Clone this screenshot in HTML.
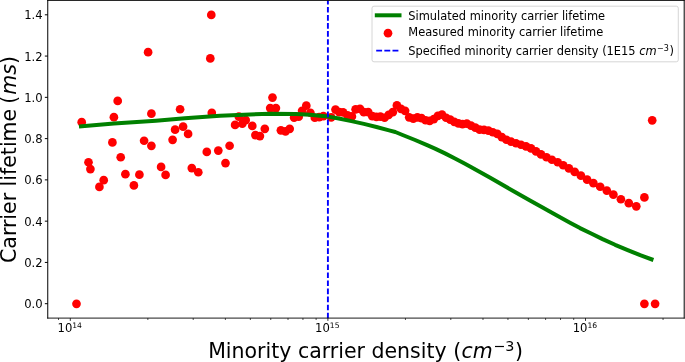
<!DOCTYPE html>
<html><head><meta charset="utf-8"><title>Carrier lifetime</title>
<style>html,body{margin:0;padding:0;background:#fff}svg{display:block;will-change:transform}</style></head>
<body>
<svg width="685" height="362" viewBox="0 0 685 362">
<rect width="685" height="362" fill="#fff"/>
<g fill="#ff0000">
<circle cx="76.5" cy="303.85" r="4.35"/>
<circle cx="81.7" cy="122.15" r="4.35"/>
<circle cx="88.5" cy="162.25" r="4.35"/>
<circle cx="90.4" cy="169.05" r="4.35"/>
<circle cx="99.4" cy="186.95" r="4.35"/>
<circle cx="103.7" cy="180.15" r="4.35"/>
<circle cx="112.4" cy="142.45" r="4.35"/>
<circle cx="113.9" cy="117.15" r="4.35"/>
<circle cx="117.7" cy="100.95" r="4.35"/>
<circle cx="120.7" cy="157.25" r="4.35"/>
<circle cx="125.4" cy="174.15" r="4.35"/>
<circle cx="133.9" cy="185.45" r="4.35"/>
<circle cx="139.4" cy="174.65" r="4.35"/>
<circle cx="144.1" cy="140.75" r="4.35"/>
<circle cx="148.1" cy="52.15" r="4.35"/>
<circle cx="151.4" cy="113.65" r="4.35"/>
<circle cx="151.4" cy="145.85" r="4.35"/>
<circle cx="161.1" cy="166.95" r="4.35"/>
<circle cx="165.6" cy="174.95" r="4.35"/>
<circle cx="172.6" cy="139.85" r="4.35"/>
<circle cx="175.1" cy="129.65" r="4.35"/>
<circle cx="180.1" cy="109.25" r="4.35"/>
<circle cx="183.1" cy="126.65" r="4.35"/>
<circle cx="188.1" cy="133.95" r="4.35"/>
<circle cx="191.8" cy="168.05" r="4.35"/>
<circle cx="198.3" cy="172.25" r="4.35"/>
<circle cx="206.8" cy="151.95" r="4.35"/>
<circle cx="210.3" cy="58.45" r="4.35"/>
<circle cx="211.3" cy="14.95" r="4.35"/>
<circle cx="211.8" cy="112.95" r="4.35"/>
<circle cx="218.3" cy="150.55" r="4.35"/>
<circle cx="225.5" cy="163.05" r="4.35"/>
<circle cx="229.6" cy="145.75" r="4.35"/>
<circle cx="235.1" cy="124.95" r="4.35"/>
<circle cx="238.8" cy="116.55" r="4.35"/>
<circle cx="242.3" cy="123.75" r="4.35"/>
<circle cx="245.7" cy="120.05" r="4.35"/>
<circle cx="252.3" cy="125.95" r="4.35"/>
<circle cx="255.4" cy="135.05" r="4.35"/>
<circle cx="259.9" cy="136.05" r="4.35"/>
<circle cx="264.8" cy="128.85" r="4.35"/>
<circle cx="270.2" cy="108.05" r="4.35"/>
<circle cx="272.5" cy="97.55" r="4.35"/>
<circle cx="275.9" cy="108.05" r="4.35"/>
<circle cx="280.9" cy="130.35" r="4.35"/>
<circle cx="285.5" cy="131.35" r="4.35"/>
<circle cx="289.7" cy="128.85" r="4.35"/>
<circle cx="294.1" cy="117.55" r="4.35"/>
<circle cx="298.7" cy="116.75" r="4.35"/>
<circle cx="302.1" cy="110.75" r="4.35"/>
<circle cx="306.3" cy="105.65" r="4.35"/>
<circle cx="310.4" cy="112.75" r="4.35"/>
<circle cx="314.8" cy="117.75" r="4.35"/>
<circle cx="319.2" cy="117.15" r="4.35"/>
<circle cx="323.4" cy="116.15" r="4.35"/>
<circle cx="331.2" cy="117.35" r="4.35"/>
<circle cx="335.5" cy="109.55" r="4.35"/>
<circle cx="339.3" cy="112.15" r="4.35"/>
<circle cx="343.1" cy="112.45" r="4.35"/>
<circle cx="347.5" cy="115.25" r="4.35"/>
<circle cx="351.9" cy="116.45" r="4.35"/>
<circle cx="355.6" cy="109.35" r="4.35"/>
<circle cx="360.0" cy="108.95" r="4.35"/>
<circle cx="363.8" cy="112.15" r="4.35"/>
<circle cx="368.2" cy="112.15" r="4.35"/>
<circle cx="372.3" cy="116.15" r="4.35"/>
<circle cx="376.4" cy="116.85" r="4.35"/>
<circle cx="380.4" cy="116.65" r="4.35"/>
<circle cx="384.6" cy="117.75" r="4.35"/>
<circle cx="388.7" cy="114.85" r="4.35"/>
<circle cx="392.8" cy="112.15" r="4.35"/>
<circle cx="396.9" cy="105.45" r="4.35"/>
<circle cx="401.0" cy="108.95" r="4.35"/>
<circle cx="405.1" cy="110.85" r="4.35"/>
<circle cx="409.2" cy="117.35" r="4.35"/>
<circle cx="413.3" cy="118.65" r="4.35"/>
<circle cx="417.4" cy="117.35" r="4.35"/>
<circle cx="421.5" cy="118.15" r="4.35"/>
<circle cx="425.6" cy="120.25" r="4.35"/>
<circle cx="429.7" cy="120.85" r="4.35"/>
<circle cx="433.8" cy="119.05" r="4.35"/>
<circle cx="437.9" cy="115.85" r="4.35"/>
<circle cx="442.0" cy="114.65" r="4.35"/>
<circle cx="446.1" cy="117.75" r="4.35"/>
<circle cx="450.2" cy="119.65" r="4.35"/>
<circle cx="454.3" cy="121.85" r="4.35"/>
<circle cx="458.4" cy="123.45" r="4.35"/>
<circle cx="462.5" cy="124.05" r="4.35"/>
<circle cx="466.8" cy="123.55" r="4.35"/>
<circle cx="471.0" cy="125.65" r="4.35"/>
<circle cx="475.3" cy="127.65" r="4.35"/>
<circle cx="479.6" cy="129.65" r="4.35"/>
<circle cx="484.0" cy="129.95" r="4.35"/>
<circle cx="488.4" cy="130.55" r="4.35"/>
<circle cx="492.8" cy="132.25" r="4.35"/>
<circle cx="497.3" cy="133.95" r="4.35"/>
<circle cx="501.8" cy="137.05" r="4.35"/>
<circle cx="506.4" cy="139.75" r="4.35"/>
<circle cx="511.0" cy="141.55" r="4.35"/>
<circle cx="516" cy="143.25" r="4.35"/>
<circle cx="521" cy="144.75" r="4.35"/>
<circle cx="526" cy="146.45" r="4.35"/>
<circle cx="531" cy="148.45" r="4.35"/>
<circle cx="536" cy="151.45" r="4.35"/>
<circle cx="541" cy="154.45" r="4.35"/>
<circle cx="546.5" cy="157.25" r="4.35"/>
<circle cx="551.9" cy="159.75" r="4.35"/>
<circle cx="557.7" cy="162.25" r="4.35"/>
<circle cx="563.2" cy="165.25" r="4.35"/>
<circle cx="568.9" cy="168.45" r="4.35"/>
<circle cx="574.7" cy="171.95" r="4.35"/>
<circle cx="580.9" cy="175.65" r="4.35"/>
<circle cx="587.1" cy="179.65" r="4.35"/>
<circle cx="593.4" cy="183.15" r="4.35"/>
<circle cx="600.2" cy="186.75" r="4.35"/>
<circle cx="606.8" cy="190.55" r="4.35"/>
<circle cx="613.4" cy="194.65" r="4.35"/>
<circle cx="620.9" cy="199.25" r="4.35"/>
<circle cx="628.8" cy="203.15" r="4.35"/>
<circle cx="636.3" cy="206.35" r="4.35"/>
<circle cx="644.4" cy="197.45" r="4.35"/>
<circle cx="644.4" cy="303.85" r="4.35"/>
<circle cx="652.2" cy="120.35" r="4.35"/>
<circle cx="655.1" cy="303.85" r="4.35"/>
</g>
<path d="M79.0 126.6 L113.9 123.6 L156 120.7 L184.8 118.3 L220 115.8 L250 114.4 L270 113.8 L296 114.1 L310 114.8 L320 115.7 L328.2 116.6 L338.8 118.5 L351.4 121.1 L363.9 123.9 L376.5 127.0 L389.1 130.4 L395.3 132.0 L402.6 135.0 L415.1 140.0 L427.7 145.4 L435 148.6 L445 153.4 L455 158.5 L465 163.7 L470 166.4 L489.8 177.6 L511 189.7 L530 200.6 L542.6 207.6 L555.1 214.6 L570 222.7 L580 228.1 L591.7 233.7 L602.6 239.1 L615.1 244.8 L627.7 250.1 L640.2 255.2 L653.4 260.0" fill="none" stroke="#008000" stroke-width="4" stroke-linecap="butt" stroke-linejoin="round"/>
<path d="M327.9 318.3 L327.9 0.45" stroke="#0000ff" stroke-width="1.9" stroke-dasharray="5.625 2.42" fill="none"/>
<g stroke="#000" stroke-width="0.8">
<path d="M70.30 318.1 v2.8"/>
<path d="M327.90 318.1 v2.8"/>
<path d="M585.50 318.1 v2.8"/>
</g><g stroke="#000" stroke-width="0.7">
<path d="M58.51 318.1 v1.9"/>
<path d="M147.85 318.1 v1.9"/>
<path d="M193.21 318.1 v1.9"/>
<path d="M225.39 318.1 v1.9"/>
<path d="M250.35 318.1 v1.9"/>
<path d="M270.75 318.1 v1.9"/>
<path d="M288.00 318.1 v1.9"/>
<path d="M302.94 318.1 v1.9"/>
<path d="M316.11 318.1 v1.9"/>
<path d="M405.45 318.1 v1.9"/>
<path d="M450.81 318.1 v1.9"/>
<path d="M482.99 318.1 v1.9"/>
<path d="M507.95 318.1 v1.9"/>
<path d="M528.35 318.1 v1.9"/>
<path d="M545.60 318.1 v1.9"/>
<path d="M560.54 318.1 v1.9"/>
<path d="M573.71 318.1 v1.9"/>
<path d="M663.05 318.1 v1.9"/>
</g><g stroke="#000" stroke-width="1">
<path d="M47.75 303.70 h-2.9"/>
<path d="M47.75 262.43 h-2.9"/>
<path d="M47.75 221.16 h-2.9"/>
<path d="M47.75 179.88 h-2.9"/>
<path d="M47.75 138.61 h-2.9"/>
<path d="M47.75 97.34 h-2.9"/>
<path d="M47.75 56.07 h-2.9"/>
<path d="M47.75 14.80 h-2.9"/>
</g>
<path d="M47.75 0.0 V318.55 M684.2 0.0 V318.55" fill="none" stroke="#000" stroke-width="1"/>
<path d="M47.25 0.45 H684.7 M47.25 318.1 H684.7" fill="none" stroke="#000" stroke-width="0.9"/>
<g font-family="'DejaVu Sans','Liberation Sans',sans-serif" fill="#000">
<text x="42.7" y="308.30" font-size="11.6" text-anchor="end">0.0</text>
<text x="42.7" y="267.03" font-size="11.6" text-anchor="end">0.2</text>
<text x="42.7" y="225.76" font-size="11.6" text-anchor="end">0.4</text>
<text x="42.7" y="184.48" font-size="11.6" text-anchor="end">0.6</text>
<text x="42.7" y="143.21" font-size="11.6" text-anchor="end">0.8</text>
<text x="42.7" y="101.94" font-size="11.6" text-anchor="end">1.0</text>
<text x="42.7" y="60.67" font-size="11.6" text-anchor="end">1.2</text>
<text x="42.7" y="19.40" font-size="11.6" text-anchor="end">1.4</text>
<text x="57.50" y="332.2" font-size="11.6">10<tspan font-size="7.6" dy="-4.5">14</tspan></text>
<text x="315.10" y="332.2" font-size="11.6">10<tspan font-size="7.6" dy="-4.5">15</tspan></text>
<text x="572.70" y="332.2" font-size="11.6">10<tspan font-size="7.6" dy="-4.5">16</tspan></text>
<text x="208.2" y="357.7" font-size="20.5">Minority carrier density (</text>
<text x="461.5" y="357.7" font-size="20.5" font-style="italic">cm</text>
<text x="493.3" y="350.6" font-size="14.35">−3</text>
<text x="515.1" y="357.7" font-size="20.5">)</text>
<text transform="translate(16.3,263.0) rotate(-90)" font-size="20.5">Carrier lifetime <tspan dx="-1.3">(</tspan><tspan font-style="italic" dx="0.9">ms</tspan>)</text>
<rect x="372" y="6.2" width="306.3" height="55.6" rx="2" ry="2" fill="#fff" fill-opacity="0.8" stroke="#cccccc" stroke-width="0.8"/>
<path d="M374.8 15.3 H401.5" stroke="#008000" stroke-width="4"/>
<circle cx="388" cy="33.2" r="4.35" fill="#ff0000"/>
<path d="M376.2 50.7 H399" stroke="#0000ff" stroke-width="1.8" stroke-dasharray="5.9 2.25"/>
<text x="408.3" y="19.5" font-size="11.43">Simulated minority carrier lifetime</text>
<text x="408.3" y="36.2" font-size="11.43">Measured minority carrier lifetime</text>
<text x="408.3" y="55" font-size="11.43">Specified minority carrier density (1E15 <tspan font-style="italic" dx="0">cm</tspan><tspan font-size="8.05" dy="-4.4" dx="0.4">−3</tspan><tspan dy="4.4" dx="0.5">)</tspan></text>
</g>
</svg>
</body></html>
